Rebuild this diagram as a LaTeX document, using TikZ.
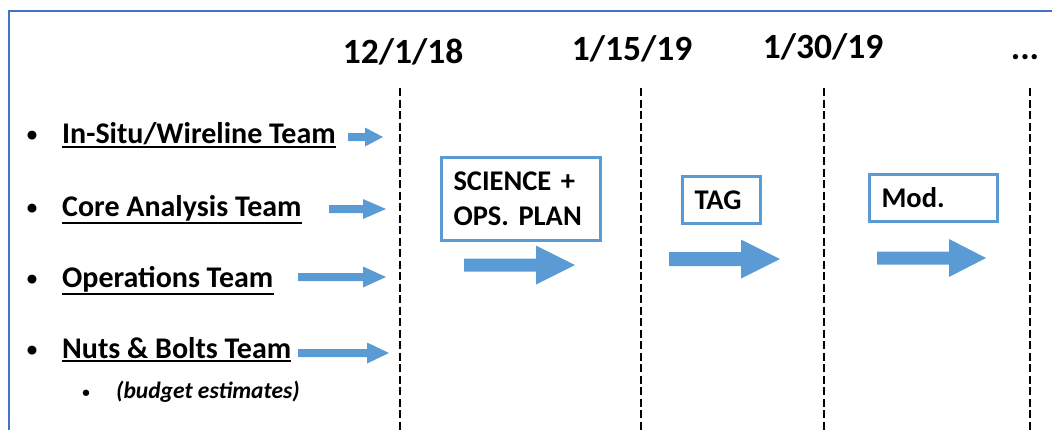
\documentclass[tikz,border=0pt]{standalone}
\usepackage{fontspec}
\setmainfont{Carlito}
\usetikzlibrary{positioning}
\definecolor{arrblue}{HTML}{5B9BD5}
\definecolor{frameblue}{HTML}{4472C4}
% block arrow: tail x, head base x, tip x, y, half shaft, half head
\newcommand{\blkarrow}[6]{%
  \fill[arrblue] (#1,#4-#5) -- (#2,#4-#5) -- (#2,#4-#6) -- (#3,#4)
    -- (#2,#4+#6) -- (#2,#4+#5) -- (#1,#4+#5) -- cycle;}

\begin{document}
\begin{tikzpicture}[
    x=1pt,y=-1pt,
    date/.style={anchor=base,inner sep=0pt,font=\fontsize{35.5}{42}\selectfont\bfseries},
    team/.style={anchor=base west,inner sep=0pt,font=\fontsize{30}{36}\selectfont\bfseries},
    bul/.style={anchor=base,inner sep=0pt,font=\fontsize{21}{26}\selectfont\bfseries},
    subteam/.style={anchor=base west,inner sep=0pt,font=\fontsize{23.5}{28}\selectfont\bfseries\itshape},
    subbul/.style={anchor=base,inner sep=0pt,font=\fontsize{15}{18}\selectfont\bfseries},
    box/.style={draw=arrblue,line width=3pt,fill=white,align=left,
                inner xsep=12pt,inner ysep=0pt,
                font=\fontsize{28.5}{35}\selectfont\bfseries},
    tline/.style={line width=2.8pt,dash pattern=on 8pt off 3.5pt},
    uline/.style={line width=2pt},
  ]
    \useasboundingbox (0,0) rectangle (1052,429);
    \draw[frameblue,line width=2.5pt] (9,432) -- (9,11) -- (1055,11);

    % dates and time lines
    \node[date] (d1) at (403,63) {12/1/18};
    \node[date] (d2) at (632,60) {1/15/19};
    \node[date] (d3) at (823,58) {1/30/19};
    \node[date] (d4) at (1025,59) {...};
    \foreach \x in {400,641,824,1030}
      \draw[tline] (\x,88) -- (\x,432);

    % teams
    \node[bul]  (b1) at (32,141) {•};
    \node[team] (t1) at (62,143) {In-Situ/Wireline Team};
    \node[bul]  (b2) at (32,214) {•};
    \node[team] (t2) at (62,216) {Core Analysis Team};
    \node[bul]  (b3) at (32,285) {•};
    \node[team] (t3) at (62,287) {Operations Team};
    \node[bul]  (b4) at (32,356) {•};
    \node[team] (t4) at (62,358) {Nuts \& Bolts Team};
    \node[subbul]  (b5) at (86,397) {•};
    \node[subteam] (t5) at (116,398) {(budget estimates)};
    \foreach \n in {t1,t2,t3,t4}
      \draw[uline] ([yshift=-2.5pt]\n.south west) -- ([yshift=-2.5pt]\n.south east);

    \blkarrow{348}{365}{383}{137}{4}{9.5}
    \blkarrow{329}{363}{386}{209}{4}{10}
    \blkarrow{298}{363}{386}{277}{4}{10.5}
    \blkarrow{298}{367}{389}{353}{4}{10.5}

    % phases
    \node[box,text width=135pt,minimum height=83pt] (plan) at (521,199) {SCIENCE +\\OPS. PLAN};
    \node[box,text width=54pt,minimum height=47pt]  (tag)  at (721.5,200) {TAG};
    \node[box,text width=104pt,minimum height=47pt] (mod)  at (933.5,198) {Mod.};
    \blkarrow{464}{536}{575}{265}{6.5}{19.5}
    \blkarrow{669}{741}{780}{259}{7}{19.5}
    \blkarrow{877}{949}{986}{258}{6.5}{19}
  \end{tikzpicture}
\end{document}
